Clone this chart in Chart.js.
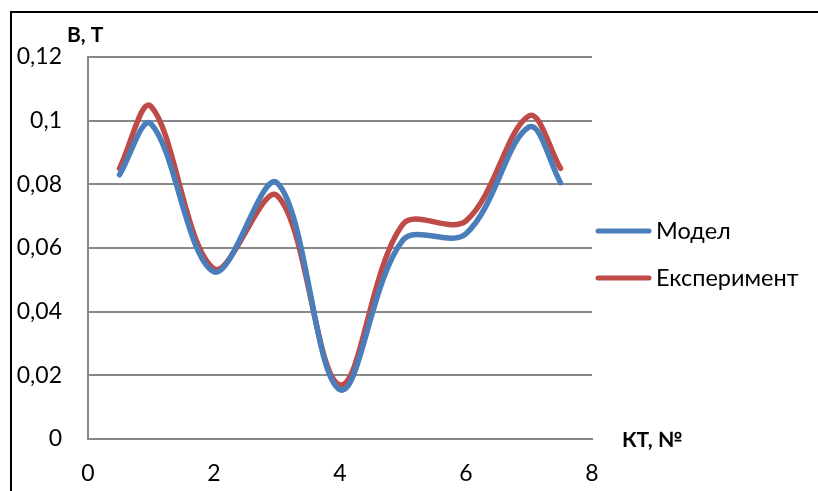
<!DOCTYPE html>
<html>
<head>
<meta charset="utf-8">
<script src="https://cdn.jsdelivr.net/npm/chart.js@4.4.1/dist/chart.umd.min.js"></script>
<style>
  html, body { margin: 0; padding: 0; background: #fff; }
  #wrap { position: relative; width: 818px; height: 491px; }
</style>
</head>
<body>
<div id="wrap"><canvas id="c" width="818" height="491"></canvas></div>
<script>
// Control-point numbers (KT, №)
const ktPoints = [0.5, 1, 2, 3, 4, 5, 6, 7, 7.5];
// Magnetic flux density B, T
const modelValues = [0.083, 0.099, 0.0525, 0.0805, 0.0155, 0.0625, 0.0645, 0.098, 0.0805];
const experimentValues = [0.085, 0.1045, 0.0535, 0.0765, 0.017, 0.0675, 0.0685, 0.1015, 0.085];
const seriesNames = ['Модел', 'Експеримент'];
const seriesColors = ['#4A7EBB', '#BE4B48'];
const xTickLabels = ['0', '2', '4', '6', '8'];
const yTickLabels = ['0', '0,02', '0,04', '0,06', '0,08', '0,1', '0,12'];
const yAxisTitle = 'B, T';
const xAxisTitle = 'КТ, №';

const FONT = 'Lato, "Liberation Sans", sans-serif';

function toPoints(xs, ys) {
  return xs.map((x, i) => ({ x: x, y: ys[i] }));
}

const frame = {
  id: 'frame',
  beforeDraw(chart) {
    const ctx = chart.ctx;
    ctx.save();
    ctx.strokeStyle = '#000';
    ctx.lineWidth = 2;
    ctx.strokeRect(11, 12, 900, 600);
    ctx.restore();
  },
  afterDraw(chart) {
    const ctx = chart.ctx;
    const a = chart.chartArea;
    ctx.save();
    // axis titles
    ctx.fillStyle = '#000';
    ctx.font = 'bold 21px ' + FONT;
    ctx.textBaseline = 'middle';
    ctx.textAlign = 'left';
    ctx.fillText(yAxisTitle, a.left - 21, a.top - 22);
    ctx.fillText(xAxisTitle, a.right + 30, a.bottom + 1);
    // legend
    ctx.font = '23.5px ' + FONT;
    chart.data.datasets.forEach((ds, i) => {
      const y = 231 + i * 47;
      ctx.strokeStyle = ds.borderColor;
      ctx.lineWidth = 5;
      ctx.lineCap = 'round';
      ctx.beginPath();
      ctx.moveTo(598, y);
      ctx.lineTo(649, y);
      ctx.stroke();
      ctx.fillStyle = '#000';
      ctx.fillText(ds.label, 656, y);
    });
    ctx.restore();
  }
};

new Chart(document.getElementById('c'), {
  type: 'scatter',
  data: {
    datasets: [
      { label: seriesNames[0], data: toPoints(ktPoints, modelValues) },
      { label: seriesNames[1], data: toPoints(ktPoints, experimentValues) }
    ].map((d, i) => Object.assign(d, {
      showLine: true,
      borderColor: seriesColors[i],
      backgroundColor: seriesColors[i],
      borderWidth: 5.5,
      borderCapStyle: 'round',
      borderJoinStyle: 'round',
      pointRadius: 0,
      pointHoverRadius: 0,
      tension: 0.35,
      clip: false
    }))
  },
  options: {
    responsive: false,
    animation: false,
    events: [],
    layout: { padding: { left: 0, top: 57, right: 226, bottom: 0 } },
    plugins: { legend: { display: false }, tooltip: { enabled: false } },
    scales: {
      x: {
        type: 'linear',
        min: 0, max: 8,
        afterFit(s) { s.height = 52; },
        afterBuildTicks(s) { s.ticks = xTickLabels.map(t => ({ value: Number(t) })); },
        ticks: {
          padding: 21,
          color: '#000',
          font: { family: FONT, size: 23 },
          callback: (v, i) => xTickLabels[i]
        },
        grid: { display: false, drawTicks: false },
        border: { display: true, color: '#898989', width: 2 }
      },
      y: {
        min: 0, max: 0.12,
        afterFit(s) { s.width = 88; },
        afterBuildTicks(s) { s.ticks = yTickLabels.map(t => ({ value: Number(t.replace(',', '.')) })); },
        ticks: {
          padding: 26,
          color: '#000',
          font: { family: FONT, size: 23 },
          callback: (v, i) => yTickLabels[i]
        },
        grid: { color: '#898989', lineWidth: 2, drawTicks: false },
        border: { display: true, color: '#898989', width: 2 }
      }
    }
  },
  plugins: [frame]
});
</script>
</body>
</html>
